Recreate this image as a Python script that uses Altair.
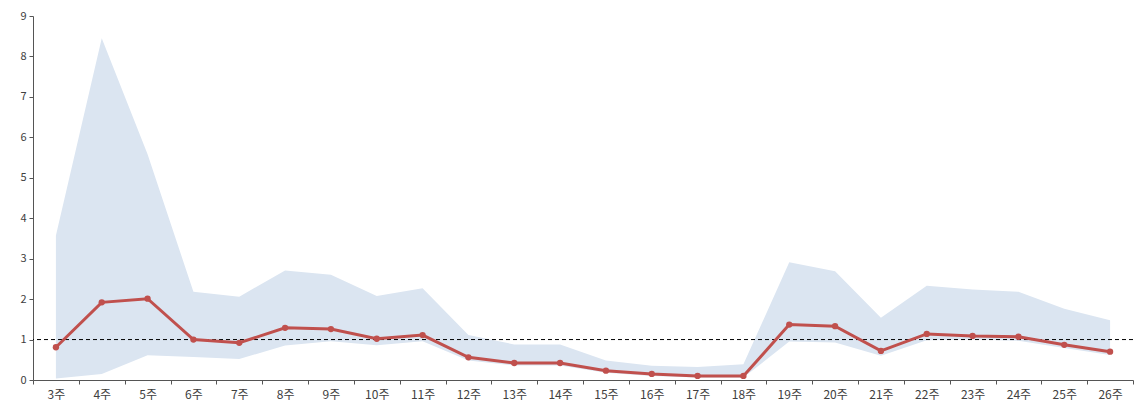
import altair as alt
import pandas as pd

weeks = ["3주", "4주", "5주", "6주", "7주", "8주", "9주", "10주", "11주", "12주", "13주", "14주",
         "15주", "16주", "17주", "18주", "19주", "20주", "21주", "22주", "23주", "24주", "25주", "26주"]
estimate = [0.81, 1.92, 2.01, 1.00, 0.92, 1.29, 1.26, 1.02, 1.11, 0.56, 0.42, 0.42,
            0.23, 0.15, 0.10, 0.10, 1.37, 1.33, 0.72, 1.14, 1.09, 1.07, 0.87, 0.70]
upper = [3.57, 8.45, 5.58, 2.18, 2.06, 2.71, 2.60, 2.08, 2.27, 1.11, 0.88, 0.88,
         0.48, 0.35, 0.32, 0.39, 2.91, 2.69, 1.54, 2.33, 2.24, 2.18, 1.76, 1.48]
lower = [0.04, 0.15, 0.61, 0.57, 0.52, 0.85, 0.96, 0.86, 0.96, 0.48, 0.36, 0.36,
         0.18, 0.10, 0.06, 0.06, 0.95, 0.93, 0.60, 0.98, 1.00, 0.97, 0.79, 0.62]
reference_level = [1]

df = pd.DataFrame({
    "idx": list(range(len(weeks))),
    "week": weeks,
    "est": estimate,
    "upper": upper,
    "lower": lower,
})
ref_df = pd.DataFrame({"ref": reference_level})

n = len(weeks)
boundaries = [i - 0.5 for i in range(n + 1)]
label_expr = "[" + ",".join("'" + w + "'" for w in weeks) + "][datum.value]"

font = "Noto Sans CJK KR"
x_scale = alt.Scale(domain=[-0.5, n - 0.5], nice=False, zero=False)
y_scale = alt.Scale(domain=[0, 9], nice=False)
y_axis = alt.Axis(values=list(range(10)), title=None, grid=False, tickSize=4,
                  labelPadding=3, domainColor="#555555", tickColor="#555555",
                  labelColor="#404040", labelFont=font, labelFontSize=11)

tick_axis = alt.Axis(values=boundaries, labels=False, title=None, grid=False,
                     tickSize=4, orient="bottom", domainColor="#555555",
                     tickColor="#555555")
label_axis = alt.Axis(values=list(range(n)), labelExpr=label_expr, title=None,
                      grid=False, ticks=False, domain=False, orient="bottom",
                      labelPadding=9, labelColor="#404040", labelFont=font,
                      labelFontSize=12, labelOverlap=False, labelFlush=False)

base = alt.Chart(df)

band = base.mark_area(color="#dbe5f1", opacity=1).encode(
    x=alt.X("idx:Q", scale=x_scale, axis=tick_axis),
    y=alt.Y("lower:Q", scale=y_scale, axis=y_axis),
    y2="upper:Q",
)

line = base.mark_line(color="#c0504d", strokeWidth=3,
                      point=alt.OverlayMarkDef(color="#c0504d", size=40, filled=True, opacity=1)).encode(
    x=alt.X("idx:Q", scale=x_scale, axis=label_axis),
    y=alt.Y("est:Q", scale=y_scale, axis=y_axis),
)

rule = alt.Chart(ref_df).mark_rule(color="#000000", strokeDash=[4, 3], strokeWidth=1).encode(
    y=alt.Y("ref:Q", scale=y_scale, axis=y_axis),
)

chart = alt.layer(band, rule, line).resolve_axis(x="independent").properties(
    width=1100,
    height=364,
    background="white",
    autosize=alt.AutoSizeParams(type="none"),
    padding={"left": 25, "top": 8, "right": 5, "bottom": 21},
).configure_view(stroke=None)

chart.save("out.html", embed_options={"renderer": "svg", "actions": False})
